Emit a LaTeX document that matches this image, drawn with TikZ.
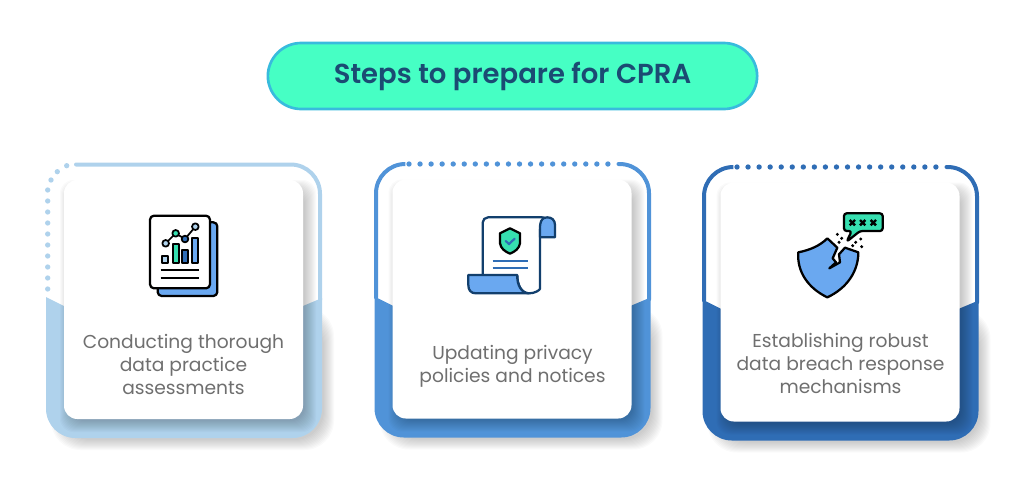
\documentclass[tikz,border=0pt]{standalone}
\usepackage{fontspec}
\setmainfont{Poppins}
\newfontfamily\titlefont{Poppins SemiBold}
\definecolor{mint}{HTML}{46FFC4}
\definecolor{pillrim}{HTML}{38BBDD}
\definecolor{navy}{HTML}{1B4B73}
\definecolor{paleblue}{HTML}{AFD2EC}
\definecolor{midblue}{HTML}{5093D8}
\definecolor{deepblue}{HTML}{2F6DB5}
\definecolor{iconblue}{HTML}{6AA8F0}
\definecolor{icongreen}{HTML}{36DFB0}
\definecolor{inkblue}{HTML}{123F6D}
\definecolor{bodygray}{HTML}{6F6F6F}
\newcommand{\lowerpanel}[1]{
	\foreach \g in {1, ..., 11} {
		\fill [black, opacity = 0.02, rounded corners = 22pt] (62 - \g, 318 - \g) rectangle (323 + \g, 439 + \g);
	}
	\fill [#1] (46, 297) -- (64, 306) -- (303, 306) -- (322, 298) [rounded corners = 22pt] -- (322, 438) -- (46, 438) [sharp corners] -- cycle;
}
\newcommand{\whitecard}{
	\foreach \g in {1, ..., 12} {
		\fill [black, opacity = 0.018, rounded corners = 10pt] (72 - \g, 192 - \g) rectangle (304 + \g, 420 + \g);
	}
	\fill [white, rounded corners = 10pt] (64, 180) rectangle (303, 419);
}
\begin{document}
\begin{tikzpicture}[x = 0.75pt, y = -0.75pt,
	rim/.style = {line width = 3pt, line cap = round},
	icon/.style = {black, line width = 1.7pt, line join = round},
	thinicon/.style = {black, line width = 1.3pt, line join = round},
	body/.style = {text = bodygray, align = center, font = \fontsize{14}{17.25}\selectfont}]
	\useasboundingbox (0, 0) rectangle (1024, 483);
	\node (title) [draw = pillrim, fill = mint, line width = 2pt, rounded corners = 25pt, minimum width = 367pt, minimum height = 49.5pt, text = navy, font = \fontsize{20.6}{24}\titlefont] at (512.5, 76) {Steps to prepare for CPRA};

	\lowerpanel{paleblue}
	\draw [rim, paleblue, rounded corners = 22pt] (76, 164.5) -- (320, 164.5) -- (320, 300);
	\foreach \y in {0, ..., 9} {
		\fill [paleblue] (47.7, 289 - \y * 11) circle (2pt);
	}
	\fill [paleblue] (51, 180) circle (2pt) (57.3, 171.7) circle (2pt) (66.7, 165.7) circle (2pt);
	\whitecard
	\begin{scope}[shift = {(130, 200)}, scale = 1 / 3]
		\draw [icon, fill = iconblue, rounded corners = 3pt] (83, 67) rectangle (262, 288);
		\draw [icon, fill = white, rounded corners = 3pt] (60, 47) rectangle (240, 265);
		\draw [thinicon, fill = paleblue] (97, 167) rectangle (115, 190);
		\draw [thinicon, fill = icongreen] (130, 133) rectangle (147, 190);
		\draw [thinicon, fill = deepblue] (157, 150) rectangle (175, 190);
		\draw [thinicon, fill = iconblue] (187, 113) rectangle (205, 190);
		\draw [thinicon] (107, 130) -- (137, 100) -- (165, 117) -- (196, 80);
		\draw [thinicon, fill = paleblue] (107, 130) circle (10);
		\draw [thinicon, fill = icongreen] (137, 100) circle (10);
		\draw [thinicon, fill = deepblue] (165, 117) circle (10);
		\draw [thinicon, fill = paleblue] (196, 80) circle (10);
		\draw [thinicon] (92, 211) -- (208, 211) (92, 235) -- (208, 235);
	\end{scope}
	\node (conduct) [body] at (183.5, 364) {Conducting thorough\\data practice\\assessments};

	\begin{scope}[shift = {(328.5, -0.5)}]
		\lowerpanel{midblue}
		\draw [rim, midblue, rounded corners = 22pt] (47.5, 298) -- (47.5, 164.5) -- (76, 164.5);
		\draw [rim, midblue, rounded corners = 22pt] (290, 164.5) -- (320.5, 164.5) -- (320.5, 300);
		\foreach \x in {0, ..., 18} {
			\fill [midblue] (80.5 + \x * 11.05, 164.5) circle (2pt);
		}
		\whitecard
	\end{scope}
	\begin{scope}[shift = {(460, 205)}, scale = 1 / 3]
		\draw [icon, inkblue, fill = white, rounded corners = 4pt] (68, 212) -- (68, 37) -- (262, 37) -- (240, 60) -- (240, 235) [sharp corners] .. controls (240, 255) and (225, 265) .. (207, 265) .. controls (185, 265) and (172, 240) .. (172, 212) -- cycle;
		\draw [icon, inkblue, fill = iconblue] (262, 37) .. controls (235, 37) and (240, 70) .. (240, 97) -- (285, 97) -- (285, 60) .. controls (285, 45) and (275, 37) .. (262, 37) -- cycle;
		\draw [icon, inkblue, fill = iconblue] (25, 210) -- (172, 210) .. controls (170, 240) and (185, 265) .. (207, 265) -- (48, 265) .. controls (32, 265) and (25, 255) .. (25, 240) -- cycle;
		\draw [icon, fill = icongreen] (150, 70) -- (180, 85) -- (180, 115) .. controls (178, 130) and (165, 140) .. (150, 146) .. controls (135, 140) and (122, 130) .. (120, 115) -- (120, 85) -- cycle;
		\draw [deepblue, line width = 1.6pt, line cap = round] (137, 108) -- (147, 117) -- (164, 101);
		\draw [deepblue, line width = 1.6pt] (98, 168) -- (205, 168) (98, 188) -- (205, 188);
	\end{scope}
	\node (update) [body] at (512.5, 366) {Updating privacy\\policies and notices};

	\begin{scope}[shift = {(656.5, 2.5)}]
		\lowerpanel{deepblue}
		\draw [rim, deepblue, rounded corners = 22pt] (47.5, 298) -- (47.5, 164.5) -- (76, 164.5);
		\draw [rim, deepblue, rounded corners = 22pt] (290, 164.5) -- (320.5, 164.5) -- (320.5, 300);
		\foreach \x in {0, ..., 18} {
			\fill [deepblue] (80.5 + \x * 11.05, 164.5) circle (2pt);
		}
		\whitecard
	\end{scope}
	\begin{scope}[shift = {(790, 205)}, scale = 1 / 3]
		\draw [icon, fill = icongreen, rounded corners = 2pt] (162, 25) -- (278, 25) -- (278, 78) -- (210, 78) -- (170, 110) -- (185, 78) -- (162, 78) -- cycle;
		\foreach \c in {187, 218, 250} {
			\draw [black, line width = 1.8pt] (\c - 8, 45) -- (\c + 8, 61) (\c - 8, 61) -- (\c + 8, 45);
		}
		\draw [icon, fill = iconblue] (25, 142) .. controls (60, 135) and (90, 122) .. (112, 100) -- (142, 128) -- (128, 160) -- (138, 172) -- (118, 190) -- (150, 172) -- (147, 148) -- (165, 128) -- (205, 142) .. controls (205, 200) and (170, 250) .. (112, 277) .. controls (55, 250) and (20, 200) .. (25, 142) -- cycle;
		\foreach \d in {(142, 88), (155, 100), (147, 112), (188, 122), (197, 112), (212, 102), (215, 125)} {
			\fill [black] \d circle (5);
		}
	\end{scope}
	\node (establish) [body] at (840.5, 363.5) {Establishing robust\\data breach response\\mechanisms};
\end{tikzpicture}
\end{document}
